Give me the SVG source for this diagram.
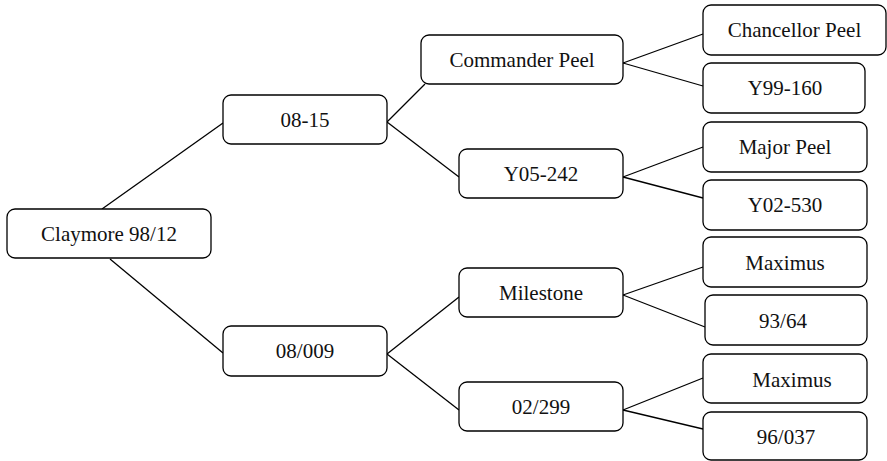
<svg xmlns="http://www.w3.org/2000/svg" width="887" height="461" viewBox="0 0 887 461">
<style>
.box{fill:#fff;stroke:#000;stroke-width:1.3}
.lbl{font-size:21px;fill:#111;text-anchor:middle}
.edge{stroke:#000;stroke-width:1.3;fill:none}
</style>
<rect width="887" height="461" fill="#fff"/>
<g id="connectors">
<line class="edge" x1="102" y1="209" x2="223" y2="123"/>
<line class="edge" x1="110" y1="259" x2="223" y2="353"/>
<line class="edge" x1="387" y1="122" x2="425" y2="84"/>
<line class="edge" x1="387" y1="122" x2="459" y2="177"/>
<line class="edge" x1="387" y1="354" x2="459" y2="297"/>
<line class="edge" x1="387" y1="354" x2="459" y2="410"/>
<line class="edge" x1="623" y1="63" x2="703" y2="34"/>
<line class="edge" x1="623" y1="63" x2="703" y2="86"/>
<line class="edge" x1="623" y1="177" x2="703" y2="147"/>
<line class="edge" x1="623" y1="177" x2="703" y2="198"/>
<line class="edge" x1="623" y1="295" x2="703" y2="267"/>
<line class="edge" x1="623" y1="295" x2="705" y2="327"/>
<line class="edge" x1="623" y1="410" x2="703" y2="378"/>
<line class="edge" x1="623" y1="410" x2="703" y2="429"/>
</g>
<g font-family="Liberation Serif, DejaVu Serif, serif">
<g id="claymore"><rect class="box" x="7" y="209" width="204" height="49" rx="8"/><text class="lbl" x="109" y="241">Claymore 98/12</text></g>
<g id="n0815"><rect class="box" x="223" y="95" width="164" height="49" rx="8"/><text class="lbl" x="305" y="127">08-15</text></g>
<g id="n08009"><rect class="box" x="223" y="326" width="164" height="50" rx="8"/><text class="lbl" x="305" y="358">08/009</text></g>
<g id="commander"><rect class="box" x="421" y="35" width="202" height="49" rx="8"/><text class="lbl" x="522" y="67">Commander Peel</text></g>
<g id="y05242"><rect class="box" x="459" y="149" width="164" height="49" rx="8"/><text class="lbl" x="541" y="181">Y05-242</text></g>
<g id="milestone"><rect class="box" x="459" y="268" width="164" height="49" rx="8"/><text class="lbl" x="541" y="300">Milestone</text></g>
<g id="n02299"><rect class="box" x="459" y="382" width="164" height="49" rx="8"/><text class="lbl" x="541" y="414">02/299</text></g>
<g id="chancellor"><rect class="box" x="703" y="5" width="183" height="50" rx="8"/><text class="lbl" x="794.5" y="37">Chancellor Peel</text></g>
<g id="y99160"><rect class="box" x="703" y="63" width="162" height="50" rx="8"/><text class="lbl" x="785" y="95">Y99-160</text></g>
<g id="major"><rect class="box" x="703" y="122" width="164" height="50" rx="8"/><text class="lbl" x="785" y="154">Major Peel</text></g>
<g id="y02530"><rect class="box" x="703" y="180" width="164" height="50" rx="8"/><text class="lbl" x="785" y="212">Y02-530</text></g>
<g id="maximus1"><rect class="box" x="703" y="237" width="164" height="50" rx="8"/><text class="lbl" x="785" y="270">Maximus</text></g>
<g id="n9364"><rect class="box" x="705" y="295" width="162" height="50" rx="8"/><text class="lbl" x="783" y="328">93/64</text></g>
<g id="maximus2"><rect class="box" x="703" y="354" width="164" height="49" rx="8"/><text class="lbl" x="792" y="387">Maximus</text></g>
<g id="n96037"><rect class="box" x="703" y="412" width="164" height="48" rx="8"/><text class="lbl" x="786" y="444">96/037</text></g>
</g>
</svg>
